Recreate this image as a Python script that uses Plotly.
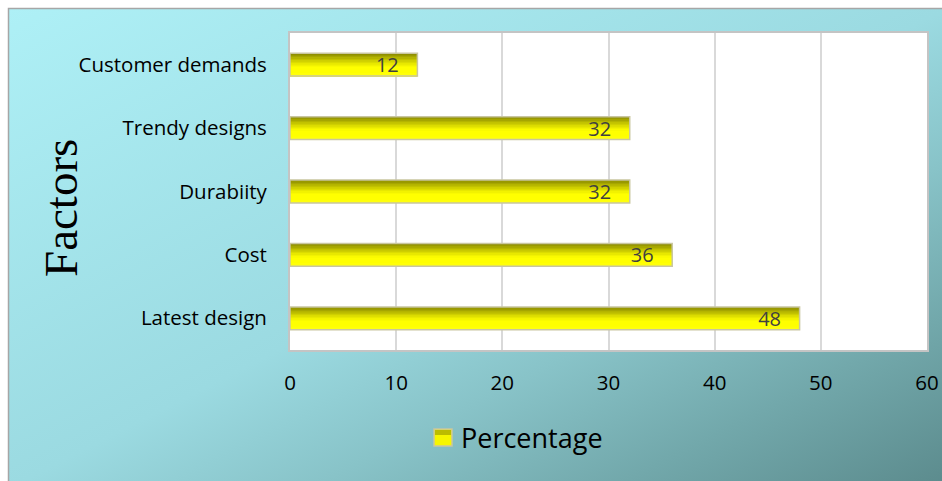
import urllib.parse
import plotly.graph_objects as go

# Survey results: share of respondents naming each factor
factors = ["Latest design", "Cost", "Durabiity", "Trendy designs", "Customer demands"]
percentage = [48, 36, 32, 32, 12]
series_name = "Percentage"
x_ticks = [0, 10, 20, 30, 40, 50, 60]

W, H = 942, 481
L, R, T, B = 290, 15, 33, 131
pw, ph = W - L - R, H - T - B

FONT = "Open Sans, Noto Sans, sans-serif"
BAR_W = 0.36
# vertical shading of each bar: dark olive at the top edge fading into yellow
shade = ["#8c8c00", "#999900", "#a6a600", "#b4b400", "#c2c200", "#cfcf00",
         "#dcdc00", "#e8e800", "#f2f200", "#fafa00", "#ffff00", "#ffff00",
         "#ffff00", "#ffff00", "#ffff08", "#ffff10"]
n = len(shade)
slice_w = BAR_W / n

fig = go.Figure()
for i, col in enumerate(shade):
    # slice i counted from the top edge downwards
    fig.add_trace(go.Bar(
        y=factors, x=percentage, orientation="h",
        width=slice_w, offset=BAR_W / 2 - (i + 1) * slice_w,
        marker=dict(color=col, line=dict(width=0)),
        name=series_name, showlegend=False, hoverinfo="skip",
    ))

# outline + value labels
fig.add_trace(go.Bar(
    y=factors, x=percentage, orientation="h",
    width=BAR_W, offset=-BAR_W / 2,
    marker=dict(color="rgba(0,0,0,0)", line=dict(color="#c9c6a0", width=1.5)),
    text=[f"{v}\u00a0\u00a0\u00a0" for v in percentage],
    textposition="inside", insidetextanchor="end", constraintext="none",
    textfont=dict(family=FONT, size=20, color="#404040"),
    showlegend=False, name=series_name,
))

bg_svg = (
    "<svg xmlns='http://www.w3.org/2000/svg' width='942' height='481' viewBox='0 0 942 481' preserveAspectRatio='none'>"
    "<defs><linearGradient id='g' x1='0' y1='0' x2='1' y2='1'>"
    "<stop offset='0' stop-color='#aef0f6'/>"
    "<stop offset='0.5' stop-color='#9bdae1'/>"
    "<stop offset='0.66' stop-color='#88c3c8'/>"
    "<stop offset='0.82' stop-color='#72a8ab'/>"
    "<stop offset='1' stop-color='#5b8a8c'/>"
    "</linearGradient></defs>"
    "<rect x='0' y='0' width='942' height='481' fill='white'/>"
    "<rect x='8.5' y='8.5' width='940' height='480' fill='url(#g)' stroke='#a6a6a6' stroke-width='1.5'/>"
    "</svg>"
)
bg_uri = "data:image/svg+xml;charset=utf-8," + urllib.parse.quote(bg_svg)

fig.add_layout_image(dict(
    source=bg_uri, xref="paper", yref="paper",
    x=-L / pw, y=1 + T / ph, sizex=W / pw, sizey=H / ph,
    xanchor="left", yanchor="top", sizing="stretch", layer="below",
))
# white plot area over the background
fig.add_shape(type="rect", xref="paper", yref="paper", x0=0, x1=1, y0=0, y1=1,
              fillcolor="white", line=dict(width=0), layer="below")


def px(xp):
    return (xp - L) / pw


def py(yp):
    return (H - B - yp) / ph


# legend key: shaded square and series name
fig.add_shape(type="rect", xref="paper", yref="paper",
              x0=px(434), x1=px(452), y0=py(446), y1=py(429),
              fillcolor="#f6f600", line=dict(color="#c9c6a0", width=1.5))
fig.add_shape(type="rect", xref="paper", yref="paper",
              x0=px(435), x1=px(451), y0=py(435), y1=py(430),
              fillcolor="#bcbc00", line=dict(width=0))
fig.add_annotation(text=series_name, xref="paper", yref="paper",
                   x=px(459), y=py(437), xanchor="left", yanchor="middle",
                   showarrow=False, font=dict(family=FONT, size=27, color="black"))

fig.add_annotation(
    text="Factors", xref="paper", yref="paper",
    x=px(61), y=py(208), showarrow=False, textangle=-90,
    font=dict(family="Liberation Serif, Times New Roman, serif", size=47, color="black"),
    xanchor="center", yanchor="middle",
)

fig.update_layout(
    width=W, height=H,
    margin=dict(l=L, r=R, t=T, b=B, autoexpand=False),
    paper_bgcolor="white", plot_bgcolor="rgba(0,0,0,0)",
    barmode="overlay", showlegend=False,
    font=dict(family=FONT, color="black"),
    xaxis=dict(range=[0, 60], tickvals=x_ticks, showgrid=True, gridcolor="#d9d9d9",
               gridwidth=2, zeroline=False, showline=True, mirror=True,
               linecolor="#c4c4c4", linewidth=2, ticks="outside", ticklen=13,
               tickcolor="rgba(0,0,0,0)", tickfont=dict(size=20.5), automargin=False),
    yaxis=dict(showgrid=False, showline=True, mirror=True, linecolor="#c4c4c4",
               linewidth=2, ticks="outside", ticklen=17, tickcolor="rgba(0,0,0,0)",
               tickfont=dict(size=20.5), automargin=False),
)

fig.write_html("out.html")
